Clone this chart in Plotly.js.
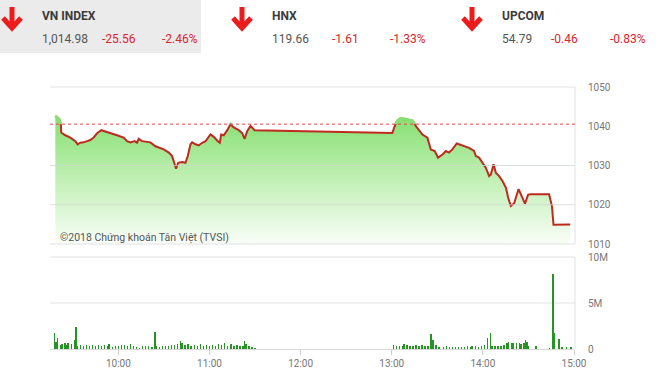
<!DOCTYPE html>
<html><head><meta charset="utf-8">
<script src="https://cdn.plot.ly/plotly-3.0.1.min.js"></script>
<style>html,body{margin:0;padding:0;background:#fff;overflow:hidden}#chart{width:660px;height:378px}</style>
</head><body><div id="chart"></div>
<script>
const DAY = '2018-01-01 ';
const priceTimes = ["09:18:30","09:21:00","09:22:12","09:22:24","09:25:06","09:28:24","09:31:42","09:33:12","09:34:54","09:37:06","09:39:24","09:41:30","09:43:42","09:46:00","09:48:48","09:51:24","09:54:42","09:59:06","10:03:30","10:05:42","10:07:54","10:10:42","10:12:18","10:13:24","10:15:36","10:21:06","10:24:24","10:27:42","10:29:54","10:33:12","10:35:24","10:37:06","10:38:00","10:39:24","10:42:00","10:44:12","10:45:42","10:47:30","10:48:36","10:50:48","10:52:54","10:55:12","10:57:24","11:00:42","11:02:48","11:05:30","11:06:48","11:07:42","11:09:24","11:11:42","11:13:48","11:16:00","11:19:18","11:21:36","11:23:06","11:24:54","11:27:00","11:29:42","13:00:24","13:02:00","13:03:42","13:05:54","13:09:12","13:13:36","13:15:48","13:20:12","13:23:30","13:25:42","13:28:18","13:30:30","13:33:24","13:35:36","13:37:42","13:39:54","13:42:48","13:46:36","13:50:54","13:54:12","13:55:24","13:57:30","13:59:48","14:02:00","14:04:06","14:05:18","14:07:00","14:08:36","14:10:42","14:13:00","14:15:12","14:16:42","14:18:24","14:20:36","14:23:30","14:25:00","14:27:42","14:29:48","14:31:36","14:43:36","14:45:30","14:46:30","14:57:30"];
const priceValues = [1042.6,1041.8,1040.3,1038.4,1037.7,1037.1,1036.2,1035.4,1035.8,1035.9,1036.2,1036.5,1037.1,1038.2,1039.0,1038.7,1038.2,1037.7,1037.1,1036.2,1035.9,1036.2,1035.8,1036.8,1036.2,1035.9,1034.9,1034.5,1034.1,1033.3,1032.4,1030.3,1029.2,1030.7,1030.9,1030.7,1032.4,1035.4,1035.9,1035.4,1035.1,1035.8,1036.2,1037.9,1037.3,1036.2,1035.8,1037.9,1037.7,1039.0,1040.5,1039.7,1039.0,1038.2,1036.8,1038.8,1040.1,1039.0,1038.3,1040.1,1041.4,1042.0,1041.8,1041.4,1040.1,1037.9,1037.1,1034.1,1033.7,1032.0,1032.8,1033.7,1033.3,1034.1,1035.6,1035.1,1034.5,1033.7,1032.4,1032.0,1030.7,1029.4,1027.3,1027.7,1030.3,1028.1,1027.3,1026.0,1024.3,1021.7,1019.7,1020.4,1024.0,1022.6,1020.3,1022.6,1022.7,1022.7,1019.6,1014.9,1014.98];
const refValue = 1040.54;
const volTimes = ["09:18","09:19","09:20","09:22","09:23","09:25","09:26","09:27","09:29","09:31","09:32","09:33","09:35","09:37","09:39","09:41","09:43","09:45","09:47","09:49","09:51","09:53","09:54","09:56","09:58","10:00","10:02","10:04","10:06","10:08","10:10","10:12","10:14","10:16","10:18","10:20","10:22","10:24","10:25","10:27","10:29","10:31","10:33","10:35","10:37","10:39","10:41","10:42","10:44","10:46","10:48","10:50","10:52","10:54","10:56","10:58","11:00","11:02","11:04","11:06","11:08","11:10","11:12","11:14","11:16","11:18","11:20","11:22","11:23","11:24","11:26","11:28","11:30",
"13:01","13:03","13:05","13:07","13:08","13:10","13:12","13:14","13:16","13:18","13:20","13:22","13:24","13:26","13:27","13:29","13:31","13:34","13:36","13:38","13:40","13:42","13:44","13:46","13:48","13:50","13:52","13:53","13:55","13:57","13:59","14:01","14:03","14:05","14:06","14:08","14:10","14:12","14:14","14:16","14:17","14:19","14:20","14:22","14:24","14:25","14:27","14:28","14:29","14:30","14:35","14:44","14:46","14:47","14:50","14:52","14:55","14:58"];
const volValues = [1.75,0.8,1.2,0.4,0.5,0.65,0.4,0.7,0.5,1.0,2.4,0.3,0.4,0.35,0.45,0.3,0.4,0.35,0.45,0.3,0.4,0.3,0.55,0.2,0.3,0.35,0.4,0.45,0.3,0.5,0.35,0.2,0.15,0.3,0.35,0.3,0.25,1.85,0.3,0.2,0.3,0.35,0.3,0.45,0.4,0.55,0.9,0.7,0.4,0.5,0.3,0.45,0.3,0.5,0.35,0.45,0.3,0.4,0.35,0.55,0.4,0.6,0.35,0.5,0.3,0.45,0.35,0.3,0.9,0.5,0.35,0.25,0.15,
0.4,0.3,0.35,0.3,0.55,0.4,0.35,0.3,0.4,0.35,0.45,0.3,0.35,1.6,1.0,0.45,0.25,0.2,0.3,0.25,0.2,0.25,0.2,0.25,0.2,0.3,0.25,0.35,0.3,0.25,0.35,0.45,1.2,1.75,0.3,0.35,0.3,0.35,0.4,0.7,0.8,0.6,0.7,0.65,0.6,0.55,0.6,1.0,0.8,0.3,0.35,0.1,8.1,1.75,1.1,0.2,0.2,0.2];
const priceTicks = [1010,1020,1030,1040,1050];
const priceGrid = [1020,1030];
const volTicks = [0,5,10];
const volTickText = ['0','5M','10M'];
const timeTicks = ['10:00','11:00','12:00','13:00','14:00','15:00'];
const indexNames = ['VN INDEX','HNX','UPCOM'];
const indexValues = ['1,014.98','119.66','54.79'];
const indexChanges = ['-25.56','-1.61','-0.46'];
const indexPct = ['-2.46%','-1.33%','-0.83%'];
const watermark = '©2018 Chứng khoán Tân Việt (TVSI)';

const W = 660, H = 378;
const px = x => x / W, py = y => 1 - y / H;
const FONT = 'Roboto, "Liberation Sans", Arial, sans-serif';
const xDom = [px(50), px(574)];
const xRange = [DAY + '09:15', DAY + '15:00'];
const topDom = [py(244), py(87)];
const volDom = [py(349), py(257)];
const refPaper = topDom[0] + (refValue - 1010) / 40 * (topDom[1] - topDom[0]);

const tx = priceTimes.map(t => DAY + t);
const lineRed = '#bf2a1f';
const traces = [
  {x: tx, y: priceValues, xaxis: 'x', yaxis: 'y', type: 'scatter', mode: 'lines',
   line: {color: lineRed, width: 2}, fill: 'tozeroy',
   fillgradient: {type: 'vertical', start: 1010, stop: 1043,
     colorscale: [[0, 'rgb(250,254,249)'], [0.5, 'rgb(194,240,182)'], [1, 'rgb(132,223,112)']]},
   hoverinfo: 'skip'},
  {x: tx, y: priceValues, xaxis: 'x', yaxis: 'y3', type: 'scatter', mode: 'lines',
   line: {color: 'rgb(136,224,116)', width: 3}, hoverinfo: 'skip'},
  {x: volTimes.map(t => DAY + t), y: volValues, xaxis: 'x2', yaxis: 'y2', type: 'bar',
   width: 60000, marker: {color: '#279327', line: {width: 0}}, hoverinfo: 'skip'}
];

const grey = '#e2e2e2';
const shapes = [
  {type: 'rect', xref: 'paper', yref: 'paper', x0: 0, x1: px(201), y0: py(53), y1: 1, fillcolor: '#ebebeb', line: {width: 0}, layer: 'below'},
  {type: 'line', xref: 'paper', yref: 'paper', x0: xDom[0], x1: px(575), y0: topDom[1], y1: topDom[1], line: {color: grey, width: 1}},
  {type: 'line', xref: 'paper', yref: 'paper', x0: px(575), x1: px(575), y0: topDom[0], y1: topDom[1], line: {color: grey, width: 1}},
  {type: 'line', xref: 'paper', yref: 'paper', x0: xDom[0], x1: px(575), y0: topDom[0], y1: topDom[0], line: {color: grey, width: 1}},
  {type: 'line', xref: 'paper', yref: 'paper', x0: xDom[0], x1: px(575), y0: volDom[1], y1: volDom[1], line: {color: grey, width: 1}},
  {type: 'line', xref: 'paper', yref: 'paper', x0: px(575), x1: px(575), y0: volDom[0], y1: volDom[1], line: {color: grey, width: 1}},
  {type: 'line', xref: 'paper', yref: 'y2', x0: xDom[0], x1: px(575), y0: 5, y1: 5, line: {color: grey, width: 1}, layer: 'below'},
  {type: 'line', xref: 'paper', yref: 'y', x0: xDom[0], x1: px(575), y0: refValue, y1: refValue, line: {color: '#e0474c', width: 1, dash: 'dot'}}
];
priceGrid.forEach(v => shapes.push({type: 'line', xref: 'paper', yref: 'y', x0: xDom[0], x1: px(575), y0: v, y1: v,
  line: {color: 'rgba(205,215,205,0.75)', width: 1}, layer: 'above'}));

const arrowX = [12, 242, 472];
arrowX.forEach(cx => {
  const path = `M ${px(cx)},${py(7)} L ${px(cx)},${py(28)} M ${px(cx - 9)},${py(18)} L ${px(cx)},${py(28)} L ${px(cx + 9)},${py(18)}`;
  shapes.push({type: 'path', xref: 'paper', yref: 'paper', path: path, line: {color: '#ec1c1c', width: 5}});
});

const annotations = [];
const nameX = [40, 270, 500], chgX = [100, 330, 549], pctX = [160, 388, 608];
indexNames.forEach((n, i) => {
  annotations.push({text: '<b>' + n + '</b>', x: px(nameX[i]), y: py(16), xref: 'paper', yref: 'paper', xanchor: 'left', yanchor: 'middle', showarrow: false, font: {family: FONT, size: 12, color: '#3a3a3a'}});
  annotations.push({text: indexValues[i], x: px(nameX[i]), y: py(39), xref: 'paper', yref: 'paper', xanchor: 'left', yanchor: 'middle', showarrow: false, font: {family: FONT, size: 12, color: '#555'}});
  annotations.push({text: indexChanges[i], x: px(chgX[i]), y: py(39), xref: 'paper', yref: 'paper', xanchor: 'left', yanchor: 'middle', showarrow: false, font: {family: FONT, size: 12, color: '#d8262e'}});
  annotations.push({text: indexPct[i], x: px(pctX[i]), y: py(39), xref: 'paper', yref: 'paper', xanchor: 'left', yanchor: 'middle', showarrow: false, font: {family: FONT, size: 12, color: '#d8262e'}});
});
annotations.push({text: watermark, x: px(58), y: py(237), xref: 'paper', yref: 'paper', xanchor: 'left', yanchor: 'middle', showarrow: false, font: {family: FONT, size: 10.5, color: '#555'}});

const tickFont = {family: FONT, size: 10, color: '#777'};
const layout = {
  width: W, height: H, margin: {l: 0, r: 0, t: 0, b: 0}, showlegend: false,
  paper_bgcolor: '#fff', plot_bgcolor: 'rgba(0,0,0,0)', font: {family: FONT, color: '#777', size: 12},
  xaxis: {domain: xDom, range: xRange, type: 'date', anchor: 'y', showticklabels: false, showgrid: false, zeroline: false, showline: false, ticks: '', fixedrange: true},
  yaxis: {domain: topDom, range: [1010, 1050], anchor: 'x', side: 'right', tickvals: priceTicks, ticks: '', showgrid: false, zeroline: false, showline: false, ticklabelstandoff: 13, tickfont: tickFont},
  yaxis3: {domain: [refPaper, topDom[1]], range: [refValue, 1050], anchor: 'x', visible: false},
  xaxis2: {domain: xDom, range: xRange, type: 'date', anchor: 'y2', tickvals: timeTicks.map(t => DAY + t), ticktext: timeTicks, ticks: 'outside', ticklen: 5, tickcolor: '#ccc', showline: true, linecolor: '#d8d8d8', showgrid: false, zeroline: false, tickfont: tickFont},
  yaxis2: {domain: volDom, range: [0, 10], anchor: 'x2', side: 'right', tickvals: volTicks, ticktext: volTickText, ticks: '', showgrid: false, zeroline: false, showline: false, ticklabelstandoff: 13, tickfont: tickFont},
  bargap: 0, shapes: shapes, annotations: annotations
};
Plotly.newPlot('chart', traces, layout, {displayModeBar: false, staticPlot: true});
</script></body></html>
